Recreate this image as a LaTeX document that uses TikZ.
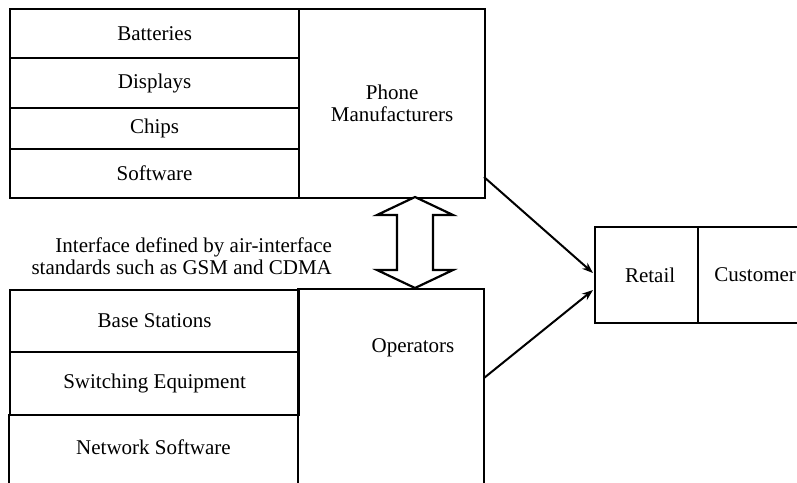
\documentclass[tikz,border=0pt]{standalone}
\usepackage{fontspec}
\setmainfont{Liberation Serif}
\usetikzlibrary{arrows.meta}
\newcommand{\lblfont}{\fontsize{21}{22}\selectfont}
\begin{document}
\begin{tikzpicture}[x=1pt,y=-1pt,line width=2.2pt,
  cell/.style={draw,rectangle,inner sep=0pt,anchor=north west,align=center,font=\lblfont},
  txt/.style={inner sep=0pt,align=center,font=\lblfont},
  conn/.style={line width=2pt,-{Stealth[length=11pt,width=8pt]}},
  biarrow/.style={draw,line width=2.2pt,line join=miter,fill=white}]
\useasboundingbox (0,0) rectangle (797,482);
\clip (0,0) rectangle (797,482);
% top group
\node[cell,minimum width=289pt,minimum height=49pt] (bat) at (9,8) {Batteries};
\node[cell,minimum width=289pt,minimum height=50pt] (dis) at (9,57) {Displays};
\node[cell,minimum width=289pt,minimum height=41pt] (chi) at (9,107) {Chips};
\node[cell,minimum width=289pt,minimum height=49pt] (sof) at (9,148) {Software};
\node[cell,minimum width=186pt,minimum height=189pt] (pm) at (298,8) {Phone\\Manufacturers};
% bottom group
\node[cell,minimum width=289pt,minimum height=62pt] (bs) at (9,289) {Base Stations};
\node[cell,minimum width=289pt,minimum height=63pt] (sw) at (9,351) {Switching Equipment};
\draw (9,414) -- (9,500) (298,414) -- (298,500);
\node[txt] (ns) at (153.5,447) {Network Software};
\draw (298,500) -- (298,289) -- (484,289) -- (484,500);
\node[txt] (op) at (413,348) {Operators};
% interface text
\node[txt,align=right,anchor=east] (itext) at (333,256) {Interface defined by air-interface\\standards such as GSM and CDMA};
% double arrow
\draw[biarrow] (415,197) -- (453,215) -- (433,215) -- (433,270) -- (453,270) -- (415,288)
  -- (377,270) -- (397,270) -- (397,215) -- (377,215) -- cycle;
% retail / customer
\node[cell,minimum width=103pt,minimum height=96pt] (ret) at (594,226) {\hspace*{7pt}Retail};
\node[cell,minimum width=114pt,minimum height=96pt] (cus) at (697,226) {Customer};
% connectors
\coordinate (pmout) at (484,177);
\coordinate (opout) at (484,378);
\coordinate (retin1) at (593,273);
\coordinate (retin2) at (593,290);
\draw[conn] (pmout) -- (retin1);
\draw[conn] (opout) -- (retin2);
\end{tikzpicture}
\end{document}
